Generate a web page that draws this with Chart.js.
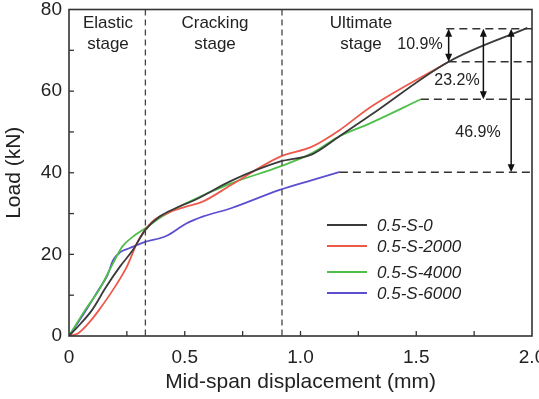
<!DOCTYPE html>
<html>
<head>
<meta charset="utf-8">
<script src="https://cdn.jsdelivr.net/npm/chart.js@4"></script>
<style>
  html, body { margin: 0; padding: 0; background: #fff; }
  #wrap { width: 539px; height: 399px; }
</style>
</head>
<body>
<div id="wrap"><canvas id="c"></canvas></div>
<script>
// Load-displacement curves
const seriesNames = ['0.5-S-0', '0.5-S-2000', '0.5-S-4000', '0.5-S-6000'];

const xS0 = [0, 0.05, 0.10, 0.16, 0.22, 0.275, 0.33, 0.39, 0.46, 0.55, 0.70, 0.91, 1.05, 1.17, 1.30, 1.64, 1.98];
const yS0 = [0, 3, 6.4, 12, 17, 21, 26, 29.2, 31.3, 33.5, 38, 42.7, 44.5, 49, 54, 67.2, 75.5];

const xS2000 = [0, 0.04, 0.09, 0.13, 0.19, 0.25, 0.30, 0.36, 0.42, 0.505, 0.58, 0.70, 0.91, 1.05, 1.17, 1.30, 1.64];
const yS2000 = [0, 0.7, 3.5, 6.4, 11.3, 17, 23.5, 28, 30, 31.7, 33, 37, 43.9, 46.4, 50.5, 56, 67.2];

const xS4000 = [0, 0.07, 0.13, 0.19, 0.23, 0.275, 0.33, 0.40, 0.505, 0.70, 0.91, 1.05, 1.17, 1.30, 1.52];
const yS4000 = [0, 6.4, 11.3, 17.8, 21.9, 24.3, 26.4, 29.2, 32.5, 37.4, 41.5, 44.8, 49, 52.1, 58];

const xS6000 = [0, 0.07, 0.13, 0.167, 0.19, 0.22, 0.26, 0.32, 0.42, 0.505, 0.58, 0.70, 0.91, 1.05, 1.17];
const yS6000 = [0, 6, 11.5, 15, 18.5, 20.5, 21.5, 22.9, 24.5, 27.5, 29.3, 31.3, 35.8, 38.2, 40.2];

const xTicks = [0, 0.5, 1.0, 1.5, 2.0];
const yTicks = [0, 20, 40, 60, 80];

// stage boundaries and labels
const stageBounds = [0.33, 0.92];
const stageLabels = [['Elastic', 'stage'], ['Cracking', 'stage'], ['Ultimate', 'stage']];

// ultimate load levels (kN), where each dashed level line starts, arrows
const levelLoads = [75.3, 67.2, 58, 40.1];
const levelStartX = [1.63, 1.64, 1.52, 1.17];
const arrowX = [1.64, 1.79, 1.91];
const arrowFrom = [75.3, 75.3, 75.3];
const arrowTo = [67.2, 58, 40.1];
const arrowLabels = ['10.9%', '23.2%', '46.9%'];

const colors = ['#3a3a3a', '#ec5a4c', '#4fbf4a', '#5b4fd0'];
const FONT = '"Liberation Sans", Arial, sans-serif';
const TXT = '#222';

function pts(xs, ys) { return xs.map((x, i) => ({ x: x, y: ys[i] })); }

const decor = {
  id: 'decor',
  afterDatasetsDraw(chart) {
    const ctx = chart.ctx, a = chart.chartArea;
    const xs = chart.scales.x, ys = chart.scales.y;
    ctx.save();

    // stage dividers
    ctx.strokeStyle = '#444';
    ctx.lineWidth = 1.3;
    ctx.setLineDash([6, 4]);
    stageBounds.forEach(b => {
      const px = xs.getPixelForValue(b);
      ctx.beginPath(); ctx.moveTo(px, a.top); ctx.lineTo(px, a.bottom); ctx.stroke();
    });

    // level lines
    ctx.strokeStyle = '#333';
    ctx.lineWidth = 1.5;
    ctx.setLineDash([8, 5]);
    levelLoads.forEach((v, i) => {
      const py = ys.getPixelForValue(v);
      ctx.beginPath(); ctx.moveTo(xs.getPixelForValue(levelStartX[i]), py); ctx.lineTo(a.right, py); ctx.stroke();
    });
    ctx.setLineDash([]);

    // double arrows
    ctx.fillStyle = '#111';
    ctx.strokeStyle = '#111';
    ctx.lineWidth = 1.5;
    arrowX.forEach((xv, i) => {
      const px = xs.getPixelForValue(xv);
      const y1 = ys.getPixelForValue(arrowFrom[i]), y2 = ys.getPixelForValue(arrowTo[i]);
      ctx.beginPath(); ctx.moveTo(px, y1 + 6); ctx.lineTo(px, y2 - 6); ctx.stroke();
      ctx.beginPath(); ctx.moveTo(px, y1); ctx.lineTo(px - 3.5, y1 + 8); ctx.lineTo(px + 3.5, y1 + 8); ctx.closePath(); ctx.fill();
      ctx.beginPath(); ctx.moveTo(px, y2); ctx.lineTo(px - 3.5, y2 - 8); ctx.lineTo(px + 3.5, y2 - 8); ctx.closePath(); ctx.fill();
    });

    // texts
    ctx.fillStyle = TXT;
    ctx.textAlign = 'center';
    ctx.textBaseline = 'middle';
    ctx.font = '17px ' + FONT;
    const stageX = [108, 215, 361];
    stageLabels.forEach((l, i) => {
      ctx.fillText(l[0], stageX[i], 23);
      ctx.fillText(l[1], stageX[i], 44);
    });
    ctx.font = '16px ' + FONT;
    const labPos = [[420, 45], [457, 81], [478, 133]];
    arrowLabels.forEach((t, i) => ctx.fillText(t, labPos[i][0], labPos[i][1]));

    // legend
    const legY = [225, 246, 272, 293];
    ctx.textAlign = 'left';
    ctx.font = 'italic 17px ' + FONT;
    chart.data.datasets.forEach((d, i) => {
      ctx.strokeStyle = d.borderColor;
      ctx.lineWidth = 2.2;
      ctx.beginPath(); ctx.moveTo(327, legY[i]); ctx.lineTo(367, legY[i]); ctx.stroke();
      ctx.fillStyle = TXT;
      ctx.fillText(d.label, 377, legY[i] + 1);
    });

    // frame and inward ticks
    ctx.strokeStyle = '#333';
    ctx.lineWidth = 1.6;
    ctx.strokeRect(a.left, a.top, a.right - a.left, a.bottom - a.top);
    ctx.lineWidth = 1.3;
    for (let v = 0.25; v < 2; v += 0.25) {
      const px = xs.getPixelForValue(v);
      ctx.beginPath(); ctx.moveTo(px, a.bottom); ctx.lineTo(px, a.bottom - 5); ctx.stroke();
    }
    for (let v = 10; v < 80; v += 10) {
      const py = ys.getPixelForValue(v);
      ctx.beginPath(); ctx.moveTo(a.left, py); ctx.lineTo(a.left + 5, py); ctx.stroke();
    }
    ctx.restore();
  }
};

const xsList = [xS0, xS2000, xS4000, xS6000];
const ysList = [yS0, yS2000, yS4000, yS6000];

new Chart(document.getElementById('c'), {
  type: 'line',
  data: {
    datasets: seriesNames.map((n, i) => ({
      label: n,
      data: pts(xsList[i], ysList[i]),
      borderColor: colors[i],
      borderWidth: 1.8,
      pointRadius: 0,
      tension: 0.4,
      cubicInterpolationMode: 'monotone',
      fill: false
    }))
  },
  options: {
    responsive: true,
    maintainAspectRatio: false,
    animation: false,
    layout: { padding: { top: 9.5, right: 7, left: 0, bottom: 0 } },
    plugins: { legend: { display: false }, tooltip: { enabled: false } },
    scales: {
      x: {
        type: 'linear', min: 0, max: 2,
        afterBuildTicks: s => { s.ticks = xTicks.map(v => ({ value: v })); },
        afterFit: s => { s.height = 63; s.paddingLeft = 0; s.paddingRight = 0; },
        grid: { display: false, drawTicks: false },
        border: { display: false },
        ticks: {
          padding: 10, color: TXT, font: { family: FONT, size: 19 },
          callback: v => v === 0 ? '0' : v.toFixed(1)
        },
        title: { display: true, text: 'Mid-span displacement (mm)', color: TXT,
          font: { family: FONT, size: 21 }, padding: { top: 0, bottom: 4 } }
      },
      y: {
        min: 0, max: 80,
        afterBuildTicks: s => { s.ticks = yTicks.map(v => ({ value: v })); },
        afterFit: s => { s.width = 69; s.paddingTop = 0; s.paddingBottom = 0; },
        grid: { display: false, drawTicks: false },
        border: { display: false },
        ticks: { padding: 7, color: TXT, font: { family: FONT, size: 19 } },
        title: { display: true, text: 'Load (kN)', color: TXT,
          font: { family: FONT, size: 21 }, padding: { top: 2, bottom: 0 } }
      }
    }
  },
  plugins: [decor]
});
</script>
</body>
</html>
